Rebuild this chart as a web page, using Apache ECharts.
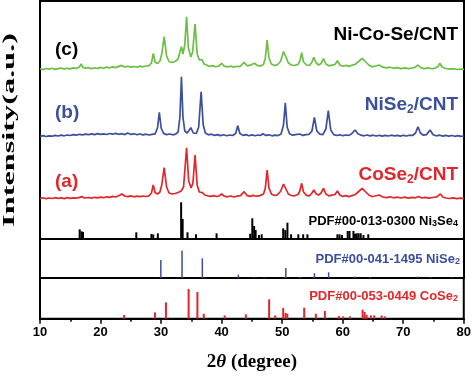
<!DOCTYPE html>
<html>
<head>
<meta charset="utf-8">
<script src="https://cdn.jsdelivr.net/npm/echarts@6/dist/echarts.min.js"></script>
<style>
  html, body { margin: 0; padding: 0; background: #fff; }
  #main { width: 474px; height: 377px; }
</style>
</head>
<body>
<div id="main"></div>
<script>
// 2theta tick labels
const xTicks = [10, 20, 30, 40, 50, 60, 70, 80];

// measured patterns, [2theta, intensity above own baseline]
// (c) Ni-Co-Se/CNT
const curveC = [[10,1.2],[10.5,0.4],[11,1.5],[11.5,0.8],[12,1.8],[12.5,0.6],[13,1.4],[13.5,2.0],[14,0.9],[14.5,1.7],[15,1.1],[15.5,2.1],[16,1.6],[16.5,3.0],[16.8,6.0],[17.1,2.6],[17.5,1.9],[18,2.4],[18.5,1.2],[19,2.2],[19.5,1.5],[20,2.6],[20.5,1.8],[21,2.9],[21.5,2.2],[22,3.1],[22.5,2.4],[23,3.6],[23.5,4.6],[24,3.0],[24.5,3.8],[25,2.9],[25.5,3.5],[26,2.7],[26.5,3.9],[27,3.2],[27.5,4.0],[28,4.4],[28.4,7],[28.7,16.7],[29,8],[29.4,6.5],[29.8,9],[30.1,16],[30.5,33.3],[30.9,14],[31.3,8.5],[31.8,7.5],[32.3,8.5],[32.8,11],[33.1,18],[33.35,23.3],[33.6,16],[33.9,25],[34.2,53.3],[34.5,22],[34.9,13],[35.2,18],[35.6,46],[35.95,16],[36.3,10],[36.7,10.5],[37.1,6],[37.6,4.8],[38,3.6],[38.5,4.4],[39,3.2],[39.5,4.0],[40,6.7],[40.4,3.8],[41,3.0],[41.5,3.9],[42,2.8],[42.5,3.7],[43,3.4],[43.7,7.7],[44.2,4.2],[44.7,4.8],[45.4,6.7],[45.9,4.5],[46.4,3.9],[46.9,5.5],[47.2,12],[47.5,30],[47.8,12],[48.2,6],[48.7,4.6],[49.2,5.2],[49.7,8.5],[50.2,18.3],[50.6,13],[51,7],[51.5,5],[52,4.5],[52.6,5.6],[52.9,9],[53.2,17.3],[53.5,8],[54,5],[54.5,4.6],[54.9,8],[55.2,12.7],[55.6,7],[56,5],[56.4,6.5],[56.8,11.3],[57.2,6],[57.7,4.2],[58.2,4.8],[58.7,5.5],[59.1,9.3],[59.5,5],[60,3.8],[60.5,4.6],[61,3.6],[61.5,4.8],[62,5.5],[62.6,8.5],[63.2,11.7],[63.7,8.5],[64.3,5],[64.8,3.2],[65.3,3.8],[66,5],[66.6,2.8],[67.2,2.2],[67.8,2.8],[68.4,1.8],[69,2.4],[69.6,1.4],[70.2,2.2],[70.8,1.3],[71.4,2.0],[71.9,2.6],[72.4,5],[72.9,2.2],[73.5,1.4],[74.1,2.2],[74.7,1.2],[75.3,2.0],[75.7,3.4],[76,6.7],[76.4,2.8],[77,1.5],[77.6,0.8],[78.2,1.4],[78.8,0.5],[79.4,1.0],[80,0.6]];

// (b) NiSe2/CNT
const curveB = [[10,0.6],[10.5,1.4],[11,0.5],[11.5,1.2],[12,0.8],[12.5,1.6],[13,1.0],[13.5,1.9],[14,1.2],[14.5,2.0],[15,1.5],[15.5,2.4],[16,1.8],[16.5,2.7],[17,2.1],[17.5,2.9],[18,2.3],[18.5,3.1],[19,2.4],[19.5,3.4],[20,2.6],[20.5,3.2],[21,2.5],[21.5,3.5],[22,2.8],[22.5,3.6],[23,2.7],[23.5,3.3],[24,2.4],[24.5,4.0],[25,2.6],[25.5,3.2],[26,2.3],[26.5,3.0],[27,2.1],[27.5,2.8],[28,2.0],[28.5,2.6],[29,3.2],[29.4,9],[29.7,24.7],[30,9],[30.4,3.6],[30.9,2.4],[31.4,3.0],[31.9,2.2],[32.4,2.9],[32.8,5],[33.1,20],[33.35,60.3],[33.6,20],[33.9,6],[34.3,4],[34.9,9.3],[35.3,4],[35.8,3.5],[36.2,10],[36.6,45.3],[36.95,12],[37.3,4],[37.8,2.2],[38.3,2.8],[38.8,1.6],[39.3,2.4],[39.8,1.4],[40.3,2.2],[40.8,1.2],[41.3,2.0],[41.8,1.5],[42.3,3.5],[42.65,11.3],[43,3.5],[43.5,1.6],[44,2.4],[44.5,1.3],[45,2.1],[45.5,1.2],[46,2.0],[46.4,1.5],[46.8,3.2],[47.3,1.6],[47.8,2.2],[48.3,1.2],[48.8,1.9],[49.3,1.4],[49.8,3],[50.2,12],[50.5,34.3],[50.8,10],[51.2,3.2],[51.7,1.8],[52.2,2.4],[52.9,3],[53.4,1.6],[53.9,2.3],[54.4,2.5],[54.9,6],[55.3,19.7],[55.7,6],[56.2,2.8],[56.7,2.4],[57.2,8],[57.6,26.3],[58,7],[58.5,2.4],[59,1.5],[59.5,2.2],[60,1.3],[60.5,2.0],[61,1.6],[61.5,3.5],[62,7],[62.5,3.2],[63,1.8],[63.5,1.2],[64,2.0],[64.5,1.1],[65,1.8],[65.5,1.0],[66,1.7],[66.5,0.9],[67,1.6],[67.5,1.0],[68,1.8],[68.5,1.1],[69,1.6],[69.5,0.9],[70,1.7],[70.5,1.0],[71,1.8],[71.5,1.5],[72,4],[72.4,10.3],[72.8,4],[73.3,1.8],[73.8,2.4],[74.4,7],[74.9,2.2],[75.4,1.2],[76,1.8],[76.5,0.9],[77,1.6],[77.5,0.8],[78,1.5],[78.5,0.7],[79,1.3],[79.5,0.6],[80,1.0]];

// (a) CoSe2/CNT
const curveA = [[10,0.4],[10.5,1.2],[11,0.3],[11.5,1.0],[12,0.5],[12.5,1.3],[13,0.6],[13.5,1.1],[14,0.4],[14.5,1.4],[15,0.7],[15.5,1.2],[16,0.8],[16.5,1.6],[16.9,2.4],[17.3,1.0],[18,1.5],[18.5,0.9],[19,1.7],[19.5,1.1],[20,1.9],[20.5,1.3],[21,2.2],[21.5,1.6],[22,2.6],[22.5,2.0],[23,3.2],[23.5,5.0],[24,3.0],[24.5,2.4],[25,3.1],[25.5,2.2],[26,2.9],[26.5,2.3],[27,3.0],[27.5,2.5],[28,3.2],[28.4,6],[28.7,14],[29,6.5],[29.4,5],[29.8,7],[30.1,14],[30.5,31.3],[30.9,12],[31.3,6],[31.8,5],[32.3,5.5],[32.8,6.5],[33.3,8],[33.7,12],[34.2,51.3],[34.55,18],[34.95,11],[35.25,16],[35.6,44],[35.95,14],[36.3,7],[36.8,6.3],[37.2,4],[37.7,3.2],[38.2,2.6],[38.7,3.4],[39.2,2.5],[39.6,3.2],[40,5],[40.4,2.8],[41,2.2],[41.5,3.0],[42,2.0],[42.5,2.8],[43.1,3.4],[43.7,7.3],[44.2,3.4],[44.7,2.6],[45.2,3.6],[45.7,2.8],[46.3,3.4],[46.9,5],[47.2,11],[47.5,29],[47.8,11],[48.2,5],[48.7,3.6],[49.2,4.2],[49.7,7.5],[50.2,15],[50.6,10],[51,5],[51.5,3.5],[52,3.2],[52.6,4.5],[52.9,8],[53.2,15.7],[53.5,7],[54,3.6],[54.5,3.2],[54.9,6],[55.2,9],[55.6,5],[56,4],[56.4,6],[56.8,10.7],[57.2,5],[57.7,3.2],[58.2,3.8],[58.7,4.6],[59.1,8],[59.5,4],[60,2.6],[60.5,3.4],[61,2.4],[61.5,3.4],[62,4.2],[62.6,7.5],[63.2,10.7],[63.7,7.5],[64.3,4],[64.8,2.4],[65.3,3.0],[66,4],[66.6,2.0],[67.2,1.4],[67.8,2.2],[68.4,1.2],[69,1.9],[69.6,1.0],[70.2,1.8],[70.8,0.9],[71.4,1.6],[72,1.2],[72.5,2.5],[73,1.0],[73.6,1.7],[74.2,0.8],[74.8,1.5],[75.5,2.2],[76.1,5],[76.5,2.0],[77,1.0],[77.6,0.5],[78.2,1.2],[78.8,0.3],[79.4,0.9],[80,0.4]];

// reference cards, [2theta, relative intensity]
const refNi3Se4 = [[16.55,9.7],[16.85,7.7],[17.1,7],[25.9,6.7],[28.4,5],[28.7,4.5],[29.45,5.7],[33.3,36.7],[33.55,20],[34.35,6.7],[35.75,4.7],[39.15,5.7],[44.7,5.3],[45.05,20.7],[45.35,13],[45.6,9],[46.15,4],[46.6,4.7],[50.15,10.7],[50.5,9],[50.85,16.3],[51.45,4.7],[52.65,4.7],[53.45,4.7],[54.15,4.7],[59.1,4.7],[59.45,4.7],[59.85,4],[60.8,8],[61.1,8],[61.75,8],[62.0,5.3],[62.3,5.7],[62.6,5.7],[62.95,5.7],[63.4,4],[64.2,4.7]];
const refNiSe2 = [[29.95,18],[33.45,27.5],[36.8,19.7],[42.75,3.3],[45.3,0.8],[47.0,0.7],[50.58,10],[53.0,1],[55.3,4.8],[57.65,5.7],[62.0,1.5],[64.5,0.9],[72.35,1.5],[74.45,1],[78.1,0.8]];
const refCoSe2 = [[23.9,3.7],[29.0,6.3],[30.8,16.3],[34.55,29.7],[36.0,26.7],[37.05,5],[40.5,3.3],[44.0,4.3],[47.85,19.3],[48.85,3.3],[50.17,10.7],[50.56,5.7],[50.85,5],[53.64,11],[55.57,5],[57.06,7.7],[59.37,2.7],[60.08,2.3],[61.2,2.3],[63.29,9],[63.62,6.7],[63.95,4],[64.66,3.3],[65.2,3.3],[66.43,3.3],[66.97,2.3]];

const GREEN = '#6cbf44', BLUE = '#3b4f9d', RED = '#e2262b';
const SANS = '"Liberation Sans", Arial, sans-serif';
const SERIF = '"Liberation Serif", "Times New Roman", serif';

// stack the curves in the top panel
function shift(arr, off) {
  return arr.map(p => [p[0], p[1] + off]);
}

let chart = echarts.init(document.getElementById('main'));

const frame = { show: true, borderColor: '#000', borderWidth: 2, left: 40, right: 10 };
const hiddenX = (i) => ({ type: 'value', gridIndex: i, min: 10, max: 80, interval: 10, show: false });

// rich styles for labels with subscripts
const subRich = (size, color, lh, sub, subLh) => ({
  m: { fontFamily: SANS, fontWeight: 'bold', fontSize: size, fill: color, lineHeight: lh, verticalAlign: 'middle' },
  s: { fontFamily: SANS, fontWeight: 'bold', fontSize: sub, fill: color, lineHeight: subLh, verticalAlign: 'bottom' }
});

let option = {
  backgroundColor: '#fff',
  animation: false,
  grid: [
    Object.assign({ top: 1, height: 238 }, frame),
    Object.assign({ top: 239, height: 39 }, frame),
    Object.assign({ top: 278, height: 40.7 }, frame)
  ],
  xAxis: [
    hiddenX(0),
    hiddenX(1),
    {
      type: 'value', gridIndex: 2, min: 10, max: 80, interval: 10,
      axisLine: { show: true, lineStyle: { color: '#000', width: 2 } },
      axisTick: { show: true, inside: false, length: 5, lineStyle: { color: '#000', width: 1.5 } },
      minorTick: { show: true, splitNumber: 2, length: 3, lineStyle: { color: '#000', width: 1.5 } },
      splitLine: { show: false },
      axisLabel: {
        color: '#000', fontFamily: SANS, fontWeight: 'bold', fontSize: 13, margin: 7,
        formatter: v => xTicks.includes(v) ? String(v) : ''
      },
      name: '{n|2}{i|θ}{n| (degree)}',
      nameLocation: 'middle',
      nameGap: 34,
      nameTextStyle: {
        rich: {
          n: { fontFamily: SERIF, fontWeight: 'bold', fontSize: 19, color: '#000' },
          i: { fontFamily: SERIF, fontWeight: 'bold', fontStyle: 'italic', fontSize: 19, color: '#000' }
        }
      }
    }
  ],
  yAxis: [
    { type: 'value', gridIndex: 0, min: 0, max: 238, show: false },
    { type: 'value', gridIndex: 1, min: 0, max: 39, show: false },
    { type: 'value', gridIndex: 2, min: 0, max: 40.7, show: false }
  ],
  series: [
    { name: 'Ni-Co-Se/CNT', type: 'line', xAxisIndex: 0, yAxisIndex: 0, showSymbol: false,
      data: shift(curveC, 169), lineStyle: { color: GREEN, width: 1.7 }, itemStyle: { color: GREEN } },
    { name: 'NiSe2/CNT', type: 'line', xAxisIndex: 0, yAxisIndex: 0, showSymbol: false,
      data: shift(curveB, 102), lineStyle: { color: BLUE, width: 1.7 }, itemStyle: { color: BLUE } },
    { name: 'CoSe2/CNT', type: 'line', xAxisIndex: 0, yAxisIndex: 0, showSymbol: false,
      data: shift(curveA, 40), lineStyle: { color: RED, width: 1.7 }, itemStyle: { color: RED } },
    { name: 'Ni3Se4', type: 'bar', xAxisIndex: 0, yAxisIndex: 0, barWidth: 2,
      data: refNi3Se4, itemStyle: { color: '#000' } },
    { name: 'NiSe2', type: 'bar', xAxisIndex: 1, yAxisIndex: 1, barWidth: 1.5,
      data: refNiSe2, itemStyle: { color: BLUE } },
    { name: 'CoSe2', type: 'bar', xAxisIndex: 2, yAxisIndex: 2, barWidth: 2,
      data: refCoSe2, itemStyle: { color: RED } }
  ],
  graphic: [
    { type: 'text', x: 10, y: 130, rotation: Math.PI / 2, scaleX: 1.9,
      style: { text: 'Intensity(a.u.)', font: 'bold 17px ' + SERIF, fill: '#000', align: 'center', verticalAlign: 'middle' } },
    { type: 'text', x: 55, y: 50, style: { text: '(c)', font: 'bold 19px ' + SANS, fill: '#000', verticalAlign: 'middle' } },
    { type: 'text', x: 55, y: 113, style: { text: '(b)', font: 'bold 19px ' + SANS, fill: BLUE, verticalAlign: 'middle' } },
    { type: 'text', x: 55, y: 182, style: { text: '(a)', font: 'bold 19px ' + SANS, fill: RED, verticalAlign: 'middle' } },
    { type: 'text', x: 458, y: 35,
      style: { text: 'Ni-Co-Se/CNT', font: 'bold 19px ' + SANS, fill: '#000', align: 'right', verticalAlign: 'middle' } },
    { type: 'text', x: 458, y: 105,
      style: { text: '{m|NiSe}{s|2}{m|/CNT}', align: 'right', verticalAlign: 'middle', rich: subRich(19, BLUE, 22, 12, 10) } },
    { type: 'text', x: 458, y: 175,
      style: { text: '{m|CoSe}{s|2}{m|/CNT}', align: 'right', verticalAlign: 'middle', rich: subRich(19, RED, 22, 12, 10) } },
    { type: 'text', x: 458, y: 221,
      style: { text: '{m|PDF#00-013-0300 Ni}{s|3}{m|Se}{s|4}', align: 'right', verticalAlign: 'middle', rich: subRich(13, '#000', 15, 9, 8) } },
    { type: 'text', x: 460, y: 259,
      style: { text: '{m|PDF#00-041-1495 NiSe}{s|2}', align: 'right', verticalAlign: 'middle', rich: subRich(13, BLUE, 15, 9, 8) } },
    { type: 'text', x: 458, y: 296,
      style: { text: '{m|PDF#00-053-0449 CoSe}{s|2}', align: 'right', verticalAlign: 'middle', rich: subRich(13, RED, 15, 9, 8) } }
  ]
};

chart.setOption(option);
</script>
</body>
</html>
